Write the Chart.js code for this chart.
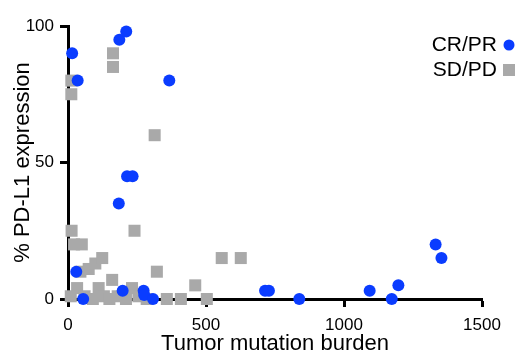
<!DOCTYPE html>
<html>
<head>
<meta charset="utf-8">
<script src="https://cdn.jsdelivr.net/npm/chart.js@4/dist/chart.umd.min.js"></script>
<style>
  body { margin: 0; background: #fff; }
</style>
</head>
<body>
<canvas id="tmbChart" width="522" height="361"></canvas>
<script>
// CR/PR responders (blue circles)
const crprTMB  = [15, 35, 186, 211, 367, 214, 234, 184, 30, 55, 198, 274, 276, 308, 714, 728, 838, 1093, 1173, 1197, 1332, 1353];
const crprPDL1 = [90, 80, 95, 98, 80, 45, 45, 35, 10, 0, 3, 3, 1.5, 0, 3, 3, 0, 3, 0, 5, 20, 15];

// SD/PD non-responders (grey squares)
const sdpdTMB  = [163, 163, 12, 12, 314, 13, 241, 22, 50, 45, 75, 99, 124, 160, 322, 461, 557, 626, 358, 409, 503,
                  33, 111, 232, 10, 60, 90, 130, 150, 180, 210, 255, 285];
const sdpdPDL1 = [90, 85, 80, 75, 60, 25, 25, 20, 20, 10, 11, 13, 15, 7, 10, 5, 15, 15, 0, 0, 0,
                  4, 4, 4, 1, 1, 0, 1, 0, 1, 0, 1, 0];

const xTicks = [0, 500, 1000, 1500];
const yTicks = [0, 50, 100];

const FONT = '"Liberation Sans", Arial, sans-serif';

function toPoints(xs, ys) {
    return xs.map((x, i) => ({ x: x, y: ys[i] }));
}

// legend drawn on the right, text first and marker after it
const sideLegend = {
    id: 'sideLegend',
    afterDatasetsDraw(chart) {
        const ctx = chart.ctx;
        ctx.save();
        ctx.font = '21px ' + FONT;
        ctx.textAlign = 'right';
        ctx.textBaseline = 'middle';
        chart.data.datasets.forEach((ds, i) => {
            const y = 45 + i * 25;
            ctx.fillStyle = '#000';
            ctx.fillText(ds.label, 497, y);
            ctx.fillStyle = ds.backgroundColor;
            if (ds.pointStyle === 'circle') {
                ctx.beginPath();
                ctx.arc(509, y, 5.5, 0, Math.PI * 2);
                ctx.fill();
            } else {
                ctx.fillRect(503, y - 6, 12, 12);
            }
        });
        ctx.restore();
    }
};

const axisGrid = {
    display: true,
    drawOnChartArea: false,
    drawTicks: true,
    tickLength: 8,
    tickWidth: 3,
    tickColor: '#000'
};

new Chart(document.getElementById('tmbChart').getContext('2d'), {
    type: 'scatter',
    data: {
        datasets: [
            {
                label: 'CR/PR',
                data: toPoints(crprTMB, crprPDL1),
                pointStyle: 'circle',
                backgroundColor: '#0a3cff',
                borderWidth: 0,
                pointRadius: 6,
                clip: false
            },
            {
                label: 'SD/PD',
                data: toPoints(sdpdTMB, sdpdPDL1),
                pointStyle: 'rect',
                backgroundColor: '#a9a9a9',
                borderWidth: 0,
                pointRadius: 8.5,
                clip: false
            }
        ]
    },
    options: {
        responsive: false,
        animation: false,
        layout: { padding: { top: 26, right: 40, left: 0, bottom: 0 } },
        plugins: {
            legend: { display: false },
            tooltip: { enabled: false }
        },
        scales: {
            x: {
                type: 'linear',
                min: 0,
                max: 1500,
                afterBuildTicks: scale => { scale.ticks = xTicks.map(v => ({ value: v })); },
                afterFit: scale => { scale.height = 62; },
                grid: axisGrid,
                border: { display: true, width: 3, color: '#000' },
                ticks: {
                    color: '#000',
                    font: { family: FONT, size: 17 },
                    padding: 8,
                    callback: v => String(v)
                },
                title: {
                    display: true,
                    text: 'Tumor mutation burden',
                    color: '#000',
                    font: { family: FONT, size: 22 },
                    padding: { top: 0, bottom: 4 }
                }
            },
            y: {
                type: 'linear',
                min: 0,
                max: 100,
                afterBuildTicks: scale => { scale.ticks = yTicks.map(v => ({ value: v })); },
                afterFit: scale => { scale.width = 68; },
                grid: axisGrid,
                border: { display: true, width: 3, color: '#000' },
                ticks: {
                    color: '#000',
                    font: { family: FONT, size: 17 },
                    padding: 6,
                    callback: v => String(v)
                },
                title: {
                    display: true,
                    text: '% PD-L1 expression',
                    color: '#000',
                    font: { family: FONT, size: 22 },
                    padding: { top: 10, bottom: 0 }
                }
            }
        }
    },
    plugins: [sideLegend]
});
</script>
</body>
</html>
